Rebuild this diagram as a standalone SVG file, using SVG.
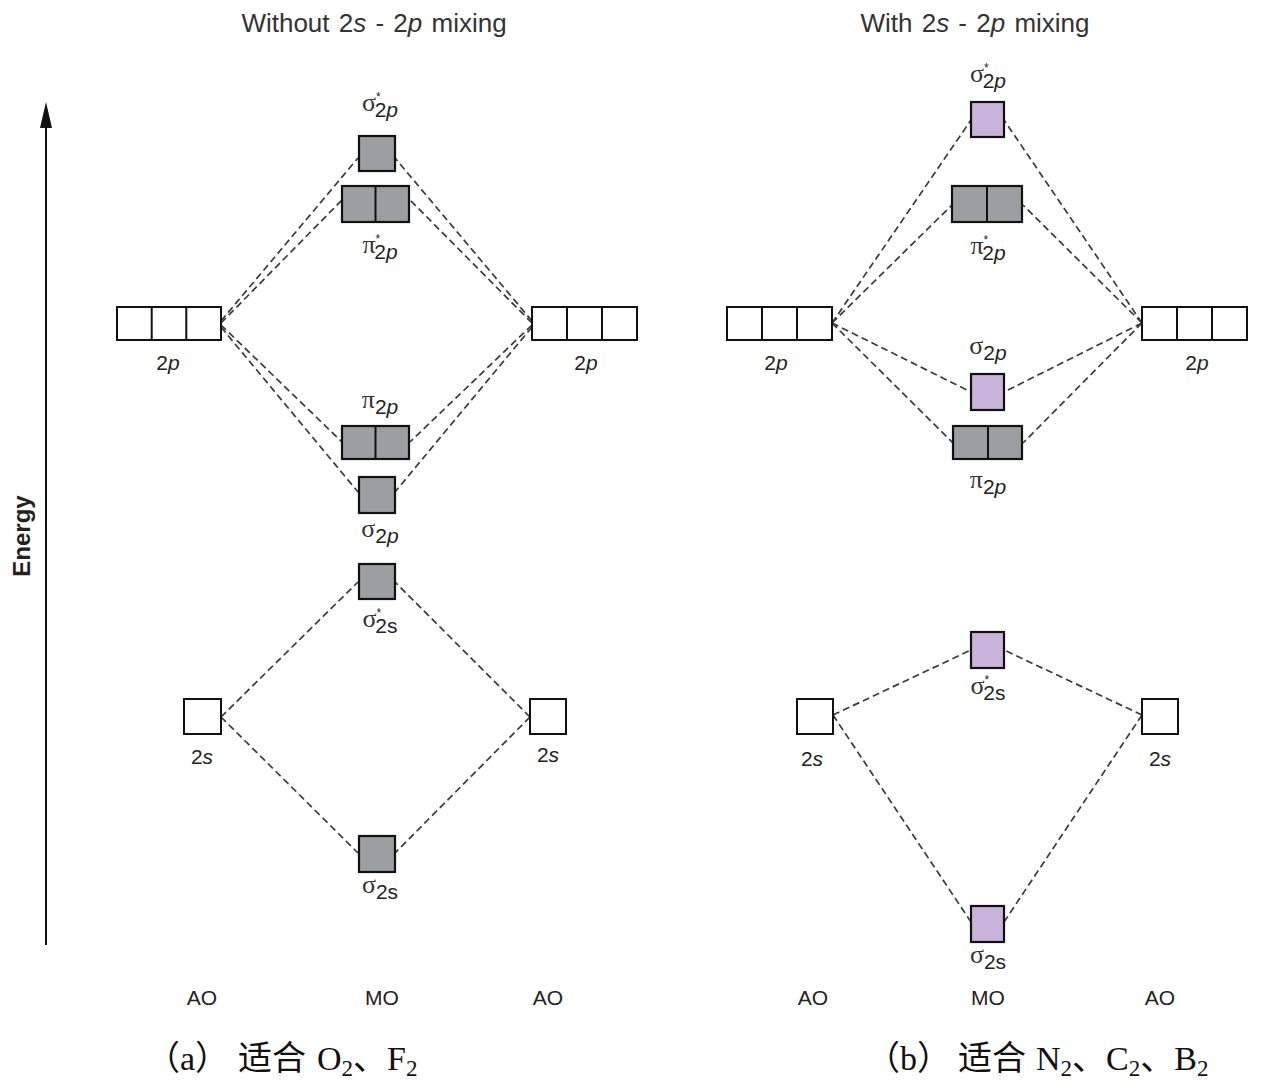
<svg xmlns="http://www.w3.org/2000/svg" width="1262" height="1088" viewBox="0 0 1262 1088">
<defs>
<style>
.ao{fill:#fff;stroke:#111;stroke-width:2}
.mo{fill:#9c9ea2;stroke:#111;stroke-width:2.2}
.pu{fill:#c9b3da;stroke:#111;stroke-width:2.2}
.sep{stroke:#111;stroke-width:2}
.dl{fill:none;stroke:#3a3a3a;stroke-width:1.7;stroke-dasharray:7 4}
.t{font-family:"Liberation Sans",Arial,sans-serif;fill:#222}
.title{font-family:"Liberation Sans",Arial,sans-serif;font-size:26px;fill:#333;word-spacing:2px}
.gr{font-family:"Liberation Serif","Times New Roman",serif;font-size:26px;fill:#333}
.st{font-family:"Liberation Sans",Arial,sans-serif;font-size:12px;fill:#222}
.sub{font-family:"Liberation Sans",Arial,sans-serif;font-size:21px;fill:#222}
.cap{font-family:"Liberation Serif","Noto Sans CJK SC",serif;font-size:34px;fill:#111}
.cs{font-size:23px}
</style>
</defs>

<text class="title" x="374" y="32" text-anchor="middle">Without 2<tspan font-style="italic">s</tspan> - 2<tspan font-style="italic">p</tspan> mixing</text>
<text class="title" x="975" y="32" text-anchor="middle">With 2<tspan font-style="italic">s</tspan> - 2<tspan font-style="italic">p</tspan> mixing</text>

<g id="energy-axis">
<line x1="46" y1="945" x2="46" y2="112" stroke="#111" stroke-width="2"/>
<path d="M40,128 L46,102 L52,128 Z" fill="#111"/>
<text class="t" x="0" y="0" transform="translate(30,536) rotate(-90)" text-anchor="middle" font-size="24" font-weight="bold" fill="#222">Energy</text>
</g>

<g id="connectors">
<path class="dl" d="M221,321 L358,158"/>
<path class="dl" d="M221,323 L342,200"/>
<path class="dl" d="M221,325 L342,442"/>
<path class="dl" d="M221,327 L358,492"/>
<path class="dl" d="M532,321 L395,158"/>
<path class="dl" d="M532,323 L410,200"/>
<path class="dl" d="M532,325 L410,442"/>
<path class="dl" d="M532,327 L395,492"/>
<path class="dl" d="M221,717 L358,582"/>
<path class="dl" d="M221,717 L358,853"/>
<path class="dl" d="M530,717 L395,582"/>
<path class="dl" d="M530,717 L395,853"/>
<path class="dl" d="M832,323 L971,120"/>
<path class="dl" d="M832,323 L952,205"/>
<path class="dl" d="M832,323 L971,392"/>
<path class="dl" d="M832,323 L953,443"/>
<path class="dl" d="M1142,323 L1004,120"/>
<path class="dl" d="M1142,323 L1023,205"/>
<path class="dl" d="M1142,323 L1004,392"/>
<path class="dl" d="M1142,323 L1023,443"/>
<path class="dl" d="M833,715 L971,650"/>
<path class="dl" d="M833,715 L971,922"/>
<path class="dl" d="M1142,715 L1004,650"/>
<path class="dl" d="M1142,715 L1004,922"/>
</g>

<g id="a-2p-left">
<rect class="ao" x="117" y="307" width="104" height="33"/>
<line class="sep" x1="151.7" y1="307" x2="151.7" y2="340"/>
<line class="sep" x1="186.3" y1="307" x2="186.3" y2="340"/>
<text class="sub" x="168" y="370" text-anchor="middle">2<tspan font-style="italic">p</tspan></text>
</g>
<g id="a-2p-right">
<rect class="ao" x="532" y="307" width="105" height="33"/>
<line class="sep" x1="567" y1="307" x2="567" y2="340"/>
<line class="sep" x1="602" y1="307" x2="602" y2="340"/>
<text class="sub" x="586" y="370" text-anchor="middle">2<tspan font-style="italic">p</tspan></text>
</g>
<g id="a-sigma-star-2p">
<rect class="mo" x="359" y="136" width="36" height="35"/>
<text x="380" y="111" text-anchor="middle"><tspan class="gr">σ</tspan><tspan class="st" dy="-10">*</tspan><tspan class="sub" dx="-6" dy="16">2<tspan font-style="italic">p</tspan></tspan></text>
</g>
<g id="a-pi-star-2p">
<rect class="mo" x="342" y="186" width="67" height="36"/>
<line class="sep" x1="375.5" y1="186" x2="375.5" y2="222"/>
<text x="380" y="253" text-anchor="middle"><tspan class="gr">π</tspan><tspan class="st" dy="-10">*</tspan><tspan class="sub" dx="-6" dy="16">2<tspan font-style="italic">p</tspan></tspan></text>
</g>
<g id="a-pi-2p">
<rect class="mo" x="342" y="426" width="67" height="33"/>
<line class="sep" x1="375.5" y1="426" x2="375.5" y2="459"/>
<text x="380" y="408" text-anchor="middle"><tspan class="gr">π</tspan><tspan class="sub" dy="6">2<tspan font-style="italic">p</tspan></tspan></text>
</g>
<g id="a-sigma-2p">
<rect class="mo" x="359" y="477" width="36" height="36"/>
<text x="380" y="537" text-anchor="middle"><tspan class="gr">σ</tspan><tspan class="sub" dy="6">2<tspan font-style="italic">p</tspan></tspan></text>
</g>
<g id="a-sigma-star-2s">
<rect class="mo" x="359" y="564" width="36" height="35"/>
<text x="380" y="627" text-anchor="middle"><tspan class="gr">σ</tspan><tspan class="st" dy="-10">*</tspan><tspan class="sub" dx="-6" dy="16">2s</tspan></text>
</g>
<g id="a-sigma-2s">
<rect class="mo" x="359" y="836" width="36" height="36"/>
<text x="380" y="893" text-anchor="middle"><tspan class="gr">σ</tspan><tspan class="sub" dy="6">2s</tspan></text>
</g>
<g id="a-2s-left">
<rect class="ao" x="184" y="699" width="37" height="35"/>
<text class="sub" x="202" y="764" text-anchor="middle">2<tspan font-style="italic">s</tspan></text>
</g>
<g id="a-2s-right">
<rect class="ao" x="530" y="699" width="36" height="35"/>
<text class="sub" x="548" y="762" text-anchor="middle">2<tspan font-style="italic">s</tspan></text>
</g>
<text class="t" x="202" y="1005" text-anchor="middle" font-size="21">AO</text>
<text class="t" x="382" y="1005" text-anchor="middle" font-size="21">MO</text>
<text class="t" x="548" y="1005" text-anchor="middle" font-size="21">AO</text>

<g id="b-2p-left">
<rect class="ao" x="727" y="307" width="105" height="33"/>
<line class="sep" x1="762" y1="307" x2="762" y2="340"/>
<line class="sep" x1="797" y1="307" x2="797" y2="340"/>
<text class="sub" x="776" y="370" text-anchor="middle">2<tspan font-style="italic">p</tspan></text>
</g>
<g id="b-2p-right">
<rect class="ao" x="1142" y="307" width="105" height="33"/>
<line class="sep" x1="1177" y1="307" x2="1177" y2="340"/>
<line class="sep" x1="1212" y1="307" x2="1212" y2="340"/>
<text class="sub" x="1197" y="370" text-anchor="middle">2<tspan font-style="italic">p</tspan></text>
</g>
<g id="b-sigma-star-2p">
<rect class="pu" x="971" y="102" width="33" height="35"/>
<text x="988" y="82" text-anchor="middle"><tspan class="gr">σ</tspan><tspan class="st" dy="-10">*</tspan><tspan class="sub" dx="-6" dy="16">2<tspan font-style="italic">p</tspan></tspan></text>
</g>
<g id="b-pi-star-2p">
<rect class="mo" x="952" y="186" width="70" height="36"/>
<line class="sep" x1="987" y1="186" x2="987" y2="222"/>
<text x="988" y="254" text-anchor="middle"><tspan class="gr">π</tspan><tspan class="st" dy="-10">*</tspan><tspan class="sub" dx="-6" dy="16">2<tspan font-style="italic">p</tspan></tspan></text>
</g>
<g id="b-sigma-2p">
<rect class="pu" x="971" y="374" width="33" height="36"/>
<text x="988" y="354" text-anchor="middle"><tspan class="gr">σ</tspan><tspan class="sub" dy="6">2<tspan font-style="italic">p</tspan></tspan></text>
</g>
<g id="b-pi-2p">
<rect class="mo" x="953" y="426" width="69" height="33"/>
<line class="sep" x1="988" y1="426" x2="988" y2="459"/>
<text x="988" y="488" text-anchor="middle"><tspan class="gr">π</tspan><tspan class="sub" dy="6">2<tspan font-style="italic">p</tspan></tspan></text>
</g>
<g id="b-sigma-star-2s">
<rect class="pu" x="971" y="632" width="33" height="36"/>
<text x="988" y="694" text-anchor="middle"><tspan class="gr">σ</tspan><tspan class="st" dy="-10">*</tspan><tspan class="sub" dx="-6" dy="16">2s</tspan></text>
</g>
<g id="b-sigma-2s">
<rect class="pu" x="971" y="906" width="33" height="36"/>
<text x="988" y="963" text-anchor="middle"><tspan class="gr">σ</tspan><tspan class="sub" dy="6">2s</tspan></text>
</g>
<g id="b-2s-left">
<rect class="ao" x="797" y="699" width="36" height="35"/>
<text class="sub" x="812" y="766" text-anchor="middle">2<tspan font-style="italic">s</tspan></text>
</g>
<g id="b-2s-right">
<rect class="ao" x="1142" y="699" width="36" height="35"/>
<text class="sub" x="1160" y="766" text-anchor="middle">2<tspan font-style="italic">s</tspan></text>
</g>
<text class="t" x="813" y="1005" text-anchor="middle" font-size="21">AO</text>
<text class="t" x="988" y="1005" text-anchor="middle" font-size="21">MO</text>
<text class="t" x="1160" y="1005" text-anchor="middle" font-size="21">AO</text>

<text class="cap" y="1070"><tspan x="146">（a）</tspan><tspan x="238">适合</tspan><tspan x="317">O</tspan><tspan class="cs" dy="6">2</tspan><tspan dy="-6">、F</tspan><tspan class="cs" dy="6">2</tspan></text>
<text class="cap" y="1070"><tspan x="866">（b）</tspan><tspan x="958">适合</tspan><tspan x="1036">N</tspan><tspan class="cs" dy="6">2</tspan><tspan dy="-6">、C</tspan><tspan class="cs" dy="6">2</tspan><tspan dy="-6">、B</tspan><tspan class="cs" dy="6">2</tspan></text>
</svg>
